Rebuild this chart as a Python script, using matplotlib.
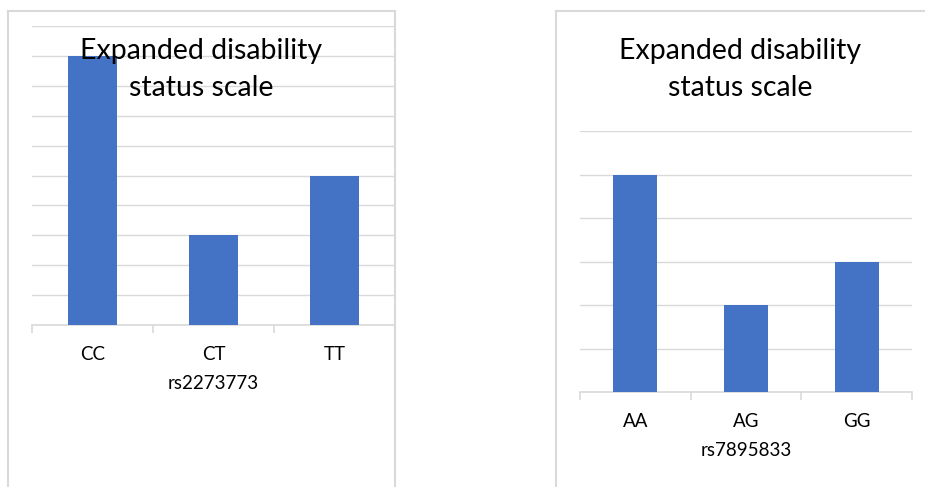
import matplotlib
matplotlib.use("Agg")
import matplotlib.pyplot as plt
from matplotlib.lines import Line2D

plt.rcParams['font.family'] = ['Lato', 'DejaVu Sans']

# Data
title_lines = ["Expanded disability", "status scale"]
left_categories = ["CC", "CT", "TT"]
left_values = [9, 3, 5]
left_xlabel = "rs2273773"
right_categories = ["AA", "AG", "GG"]
right_values = [5, 2, 3]
right_xlabel = "rs7895833"

W, H = 925, 487
DPI = 100
BAR = "#4472C4"
GRID = "#d9d9d9"
TITLE_SIZE = 20.5
LABEL_SIZE = 13.5

fig = plt.figure(figsize=(W / DPI, H / DPI), dpi=DPI)


def fx(px):
    return px / W


def fy(py):
    return 1 - py / H


def panel(x0, x1, y0, y1, cats, vals, ymax, xlabel, title_cx):
    ax = fig.add_axes([fx(x0), fy(y0), fx(x1 - x0), (y0 - y1) / H])
    n = len(cats)
    ax.bar(range(n), vals, width=0.4, color=BAR, zorder=3)
    ax.set_xlim(-0.5, n - 0.5)
    ax.set_ylim(0, ymax)
    ax.set_yticks(range(1, ymax + 1))
    ax.yaxis.grid(True, color=GRID, linewidth=1.0, zorder=0)
    ax.tick_params(axis='y', length=0, labelleft=False)
    for s in ("top", "right", "left"):
        ax.spines[s].set_visible(False)
    ax.spines["bottom"].set_color(GRID)
    ax.spines["bottom"].set_linewidth(1.2)
    # boundary ticks between categories
    ax.set_xticks([i - 0.5 for i in range(n + 1)])
    ax.set_xticklabels([])
    ax.tick_params(axis='x', which='major', length=6, width=1.2, color=GRID)
    ax.set_xticks(range(n), minor=True)
    ax.set_xticklabels(cats, minor=True, fontsize=LABEL_SIZE, color="#000000")
    ax.tick_params(axis='x', which='minor', length=0, pad=15)
    ax.set_xlabel(xlabel, fontsize=LABEL_SIZE, color="#000000", labelpad=9)
    fig.text(fx(title_cx), fy(59), title_lines[0], ha='center', va='baseline',
             fontsize=TITLE_SIZE, color="#000000", zorder=10)
    fig.text(fx(title_cx), fy(96), title_lines[1], ha='center', va='baseline',
             fontsize=TITLE_SIZE, color="#000000", zorder=10)
    return ax


panel(32, 395, 325, 26, left_categories, left_values, 10, left_xlabel, 201)
panel(580, 912, 392, 131, right_categories, right_values, 6, right_xlabel, 740)

# chart frames
frame_kw = dict(color=GRID, linewidth=1.5, transform=fig.transFigure)
fig.add_artist(Line2D([fx(8), fx(8)], [fy(11), fy(495)], **frame_kw))
fig.add_artist(Line2D([fx(8), fx(395)], [fy(11), fy(11)], **frame_kw))
fig.add_artist(Line2D([fx(395), fx(395)], [fy(11), fy(495)], **frame_kw))
fig.add_artist(Line2D([fx(556), fx(556)], [fy(11), fy(495)], **frame_kw))
fig.add_artist(Line2D([fx(556), fx(930)], [fy(11), fy(11)], **frame_kw))

fig.savefig("out.png", dpi=DPI)
